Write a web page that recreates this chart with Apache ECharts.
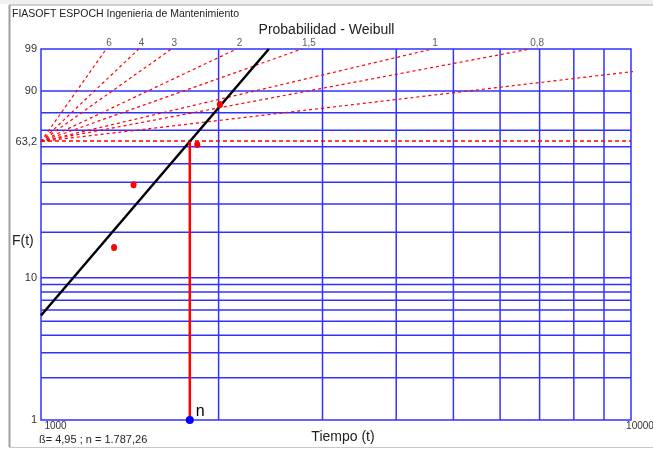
<!DOCTYPE html>
<html>
<head>
<meta charset="utf-8">
<script src="https://cdn.jsdelivr.net/npm/echarts@6/dist/echarts.min.js"></script>
<style>html,body{margin:0;padding:0;background:#fff;}#c{width:653px;height:450px;}</style>
</head>
<body>
<div id="c"></div>
<script>
// ---- data ----
const failTimes = [1330, 1435, 1840, 2010];           // hours
const failProb = [15.91, 38.64, 61.36, 84.09];        // % (median ranks)
const betaFit = 4.95;
const etaFit = 1787.26;
const yGridPct = [90, 80, 70, 60, 50, 40, 30, 20, 10, 9, 8, 7, 6, 5, 4, 3, 2];
const yTickPct = [99, 90, 63.2, 10, 1];
const yTickText = ['99', '90', '63,2', '10', '1'];
const xGridTimes = [2000, 3000, 4000, 5000, 6000, 7000, 8000, 9000];
const slopeBetas = [6, 4, 3, 2, 1.5, 1, 0.8, 0.5];
const slopeText = ['6', '4', '3', '2', '1,5', '1', '0,8', ''];
const xMin = 1000, xMax = 10000;

const U = p => Math.log(-Math.log(1 - p / 100));
const uMin = U(1), uMax = U(99), u632 = U(63.2);

const BLUE = '#3232ff', RED = '#ff0000';
const series = [];

// grid lines
yGridPct.forEach(p => series.push({
  type: 'line', silent: true, animation: false, symbol: 'none', z: 1,
  lineStyle: { color: BLUE, width: 1.5 },
  data: [[xMin, U(p)], [xMax, U(p)]]
}));
xGridTimes.forEach(t => series.push({
  type: 'line', silent: true, animation: false, symbol: 'none', z: 1,
  lineStyle: { color: BLUE, width: 1.5 },
  data: [[t, uMin], [t, uMax]]
}));

// slope (beta) guide lines
slopeBetas.forEach((b, i) => {
  let tEnd = xMin * Math.exp(uMax / b), uEnd = uMax;
  if (tEnd > 11000) { tEnd = 11000; uEnd = b * Math.log(tEnd / xMin); }
  series.push({
    type: 'line', silent: true, animation: false, clip: false, symbol: 'none', z: 2,
    lineStyle: { color: RED, width: 1.2, type: [3, 3] },
    data: [[xMin, u632], [tEnd, uEnd]]
  });
});
series.push({
  type: 'scatter', silent: true, animation: false, symbolSize: 0, z: 2,
  data: slopeBetas.map((b, i) => [xMin * Math.exp(uMax / b), uMax, slopeText[i]]).filter(d => d[0] <= xMax),
  label: { show: true, position: 'top', distance: 1, align: 'left', offset: [0, 0],
    formatter: p => p.data[2], color: '#333', fontSize: 10, fontFamily: 'Liberation Sans' }
});
// 63.2 horizontal dashed
series.push({
  type: 'line', silent: true, animation: false, symbol: 'none', z: 2,
  lineStyle: { color: RED, width: 1.3, type: [4, 3] },
  data: [[xMin, u632 + 0.008], [xMax, u632 + 0.008]]
});
// fit line
series.push({
  type: 'line', silent: true, animation: false, symbol: 'none', z: 3,
  lineStyle: { color: '#000', width: 2.5 },
  data: [[xMin, betaFit * Math.log(xMin / etaFit)], [etaFit * Math.exp(uMax / betaFit), uMax]]
});
// eta vertical
series.push({
  type: 'line', silent: true, animation: false, symbol: 'none', z: 3,
  lineStyle: { color: RED, width: 2.5 },
  data: [[etaFit, u632], [etaFit, uMin]]
});
// failure points
series.push({
  type: 'scatter', silent: true, animation: false, symbol: 'circle', symbolSize: [6, 7], z: 5,
  itemStyle: { color: RED, opacity: 1 },
  data: failTimes.map((t, i) => [t, U(failProb[i])])
});
// eta marker
series.push({
  type: 'scatter', silent: true, animation: false, clip: false, symbolSize: 8, z: 5,
  itemStyle: { color: '#0000ff', opacity: 1 },
  data: [[etaFit, uMin]],
  label: { show: true, position: 'right', distance: 2, offset: [0, -8], formatter: 'n',
    color: '#000', fontSize: 16, fontFamily: 'Liberation Sans' }
});

const chart = echarts.init(document.getElementById('c'), null, { renderer: 'canvas' });
chart.setOption({
  backgroundColor: '#fff',
  animation: false,
  title: {
    text: 'Probabilidad - Weibull', left: 'center', top: 18,
    textStyle: { fontSize: 14, fontWeight: 'normal', color: '#222', fontFamily: 'Liberation Sans' }
  },
  grid: { left: 41, right: 22, top: 49, bottom: 30, containLabel: false, outerBoundsMode: 'none',
    show: true, borderColor: BLUE, borderWidth: 1.5, backgroundColor: 'transparent' },
  xAxis: {
    type: 'log', logBase: 10, min: xMin, max: xMax,
    axisLine: { show: false }, axisTick: { show: false }, splitLine: { show: false },
    axisLabel: {
      show: true, margin: 1, fontSize: 10, color: '#333', fontFamily: 'Liberation Sans',
      hideOverlap: false,
      formatter: v => v <= xMin ? '{a|' + v + '}' : '{b|' + v + '}',
      rich: { a: { padding: [0, 0, 0, 29], fontSize: 10, color: '#333' }, b: { padding: [0, 0, 0, 18], fontSize: 10, color: '#333' } }
    }
  },
  yAxis: {
    type: 'value', min: uMin, max: uMax,
    axisLine: { show: false }, axisTick: { show: false }, splitLine: { show: false },
    axisLabel: {
      show: true, margin: 4, fontSize: 11, color: '#333', fontFamily: 'Liberation Sans',
      customValues: yTickPct.map(U),
      formatter: v => {
        let best = 0, d = 1e9;
        yTickPct.forEach((p, i) => { const dd = Math.abs(U(p) - v); if (dd < d) { d = dd; best = i; } });
        return yTickText[best];
      }
    }
  },
  graphic: [
    { type: 'rect', shape: { x: 0, y: 0, width: 653, height: 4 }, style: { fill: '#f0f0f0' }, silent: true },
    { type: 'line', shape: { x1: 9, y1: 5, x2: 653, y2: 5 }, style: { stroke: '#a0a0a0', lineWidth: 1 }, silent: true },
    { type: 'line', shape: { x1: 9.5, y1: 5, x2: 9.5, y2: 447 }, style: { stroke: '#a0a0a0', lineWidth: 2 }, silent: true },
    { type: 'line', shape: { x1: 9, y1: 447.5, x2: 653, y2: 447.5 }, style: { stroke: '#c8c8c8', lineWidth: 1 }, silent: true },
    { type: 'text', left: 12, top: 9, silent: true,
      style: { text: 'FIASOFT ESPOCH Ingenieria de Mantenimiento', fontSize: 10.5, fill: '#222', fontFamily: 'Liberation Sans' } },
    { type: 'text', left: 12, top: 234, silent: true,
      style: { text: 'F(t)', fontSize: 14, fill: '#222', fontFamily: 'Liberation Sans' } },
    { type: 'text', x: 343, y: 437, silent: true,
      style: { text: 'Tiempo (t)', fontSize: 14, fill: '#222', fontFamily: 'Liberation Sans', align: 'center', verticalAlign: 'middle' } },
    { type: 'text', left: 39, top: 434, silent: true,
      style: { text: 'ß= ' + '4,95' + ' ; n = ' + '1.787,26', fontSize: 11, fill: '#222', fontFamily: 'Liberation Sans' } }
  ],
  series: series
});
</script>
</body>
</html>
